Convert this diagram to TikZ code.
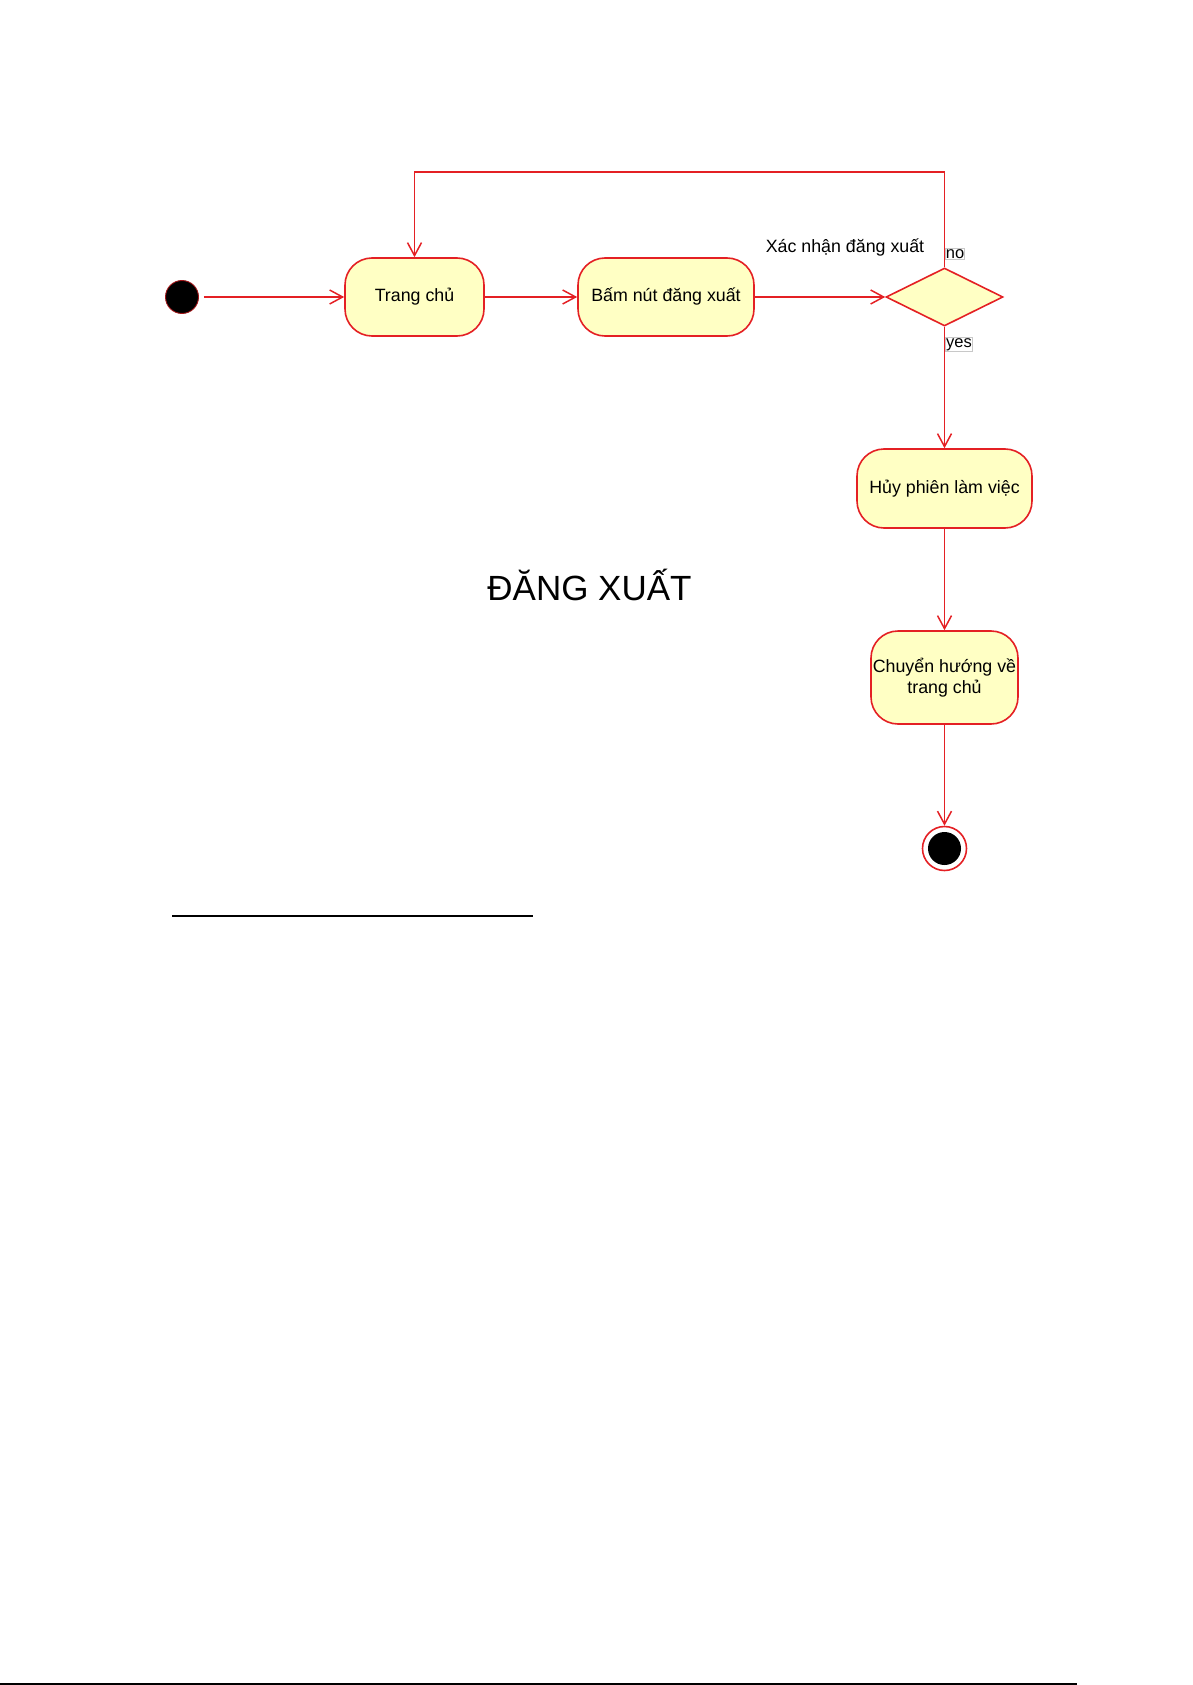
\documentclass[tikz,border=0pt]{standalone}
\usepackage{fontspec}
\setmainfont{Liberation Sans}
\usetikzlibrary{arrows.meta,shapes.geometric}
\definecolor{umlred}{RGB}{228,32,36}
\definecolor{umlfill}{RGB}{255,255,196}
\definecolor{lblgray}{RGB}{200,200,200}
\begin{document}
\begin{tikzpicture}[x=1pt,y=-1pt,
  act/.style={draw=umlred, fill=umlfill, line width=1.6pt, rounded corners=27pt,
    font=\fontsize{17.8}{21}\selectfont, align=center, inner sep=0pt},
  flow/.style={draw=umlred, line width=1.6pt,
    -{Straight Barb[length=13pt,width=14pt,line width=1.5pt]}},
  decision/.style={diamond, draw=umlred, fill=umlfill, line width=1.6pt,
    minimum width=117pt, minimum height=58pt, inner sep=0pt},
  guard/.style={draw=lblgray, line width=0.6pt, inner xsep=0.6pt, inner ysep=0.8pt,
    font=\fontsize{16.5}{18}\selectfont, fill=white},
  plain/.style={font=\fontsize{17.8}{21}\selectfont, inner sep=0pt}
]
\useasboundingbox (0,0) rectangle (1192,1685);

% initial node
\node[circle, fill=black, draw=umlred!70!black, line width=0.9pt, minimum size=33pt, inner sep=0pt] (start) at (182,297) {};

% activities
\node[act, minimum width=139pt, minimum height=78pt] (trang) at (414.5,297) {Trang chủ};
\node[act, minimum width=176pt, minimum height=78pt] (bam) at (666,297) {Bấm nút đăng xuất};
\node[decision] (dec) at (944.5,297) {};
\node[act, minimum width=175pt, minimum height=79pt] (huy) at (944.5,488.5) {Hủy phiên làm việc};
\node[act, minimum width=147pt, minimum height=93pt] (chuyen) at (944.5,677.5) {Chuyển hướng về\\trang chủ};

% final node
\node[circle, draw=umlred, fill=white, line width=1.6pt, minimum size=44pt, inner sep=0pt] (end) at (944.5,848.5) {};
\node[circle, fill=black, minimum size=33pt, inner sep=0pt] (endin) at (end.center) {};

% flows
\draw[flow] ([xshift=5pt]start.east) -- (trang.west);
\draw[flow] (trang.east) -- (bam.west);
\draw[flow] (bam.east) -- (dec.west);
\coordinate (loopc) at (680,172);
\draw[flow] (dec.north) |- (loopc) -| (trang.north);
\draw[flow] (dec.south) -- (huy.north);
\draw[flow] (huy.south) -- (chuyen.north);
\draw[flow] (chuyen.south) -- (end.north);

% labels
\node[plain, anchor=base] (xn) at (845,253) {Xác nhận đăng xuất};
\node[guard] (no) at (955,254) {no};
\node[guard] (yes) at (959,344.5) {yes};

% title
\node[font=\fontsize{35}{40}\selectfont, inner sep=0pt, anchor=base] (title) at (589.5,600) {ĐĂNG XUẤT};

% page rules
\coordinate (r1a) at (172,916);
\coordinate (r1b) at (533,916);
\draw[black, line width=1.1pt] (r1a) -- (r1b);
\coordinate (r2a) at (0,1684);
\coordinate (r2b) at (1077,1684);
\draw[black, line width=1.3pt] (r2a) -- (r2b);
\end{tikzpicture}
\end{document}
